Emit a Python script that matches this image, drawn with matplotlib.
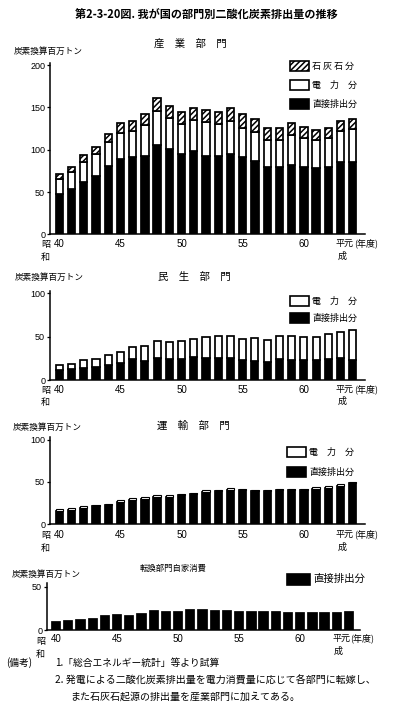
import numpy as np
import matplotlib
matplotlib.use("Agg")
import matplotlib.pyplot as plt
from matplotlib.patches import Rectangle
from matplotlib.transforms import blended_transform_factory

plt.rcParams['font.family'] = ['Noto Sans CJK JP', 'DejaVu Sans']
plt.rcParams['hatch.linewidth'] = 1.1

W, H = 399, 707

# 昭和40年度 ～ 平成元年度
years = ['40', '41', '42', '43', '44', '45', '46', '47', '48', '49', '50', '51', '52',
         '53', '54', '55', '56', '57', '58', '59', '60', '61', '62', '63', '平元']
tick_pos = [0, 5, 10, 15, 20]
tick_labels = ['40', '45', '50', '55', '60']

# 産業部門
ind_direct = [48, 54, 62, 69, 81, 89, 91, 93, 106, 101, 95, 98, 92, 92, 95, 91, 87, 79, 79, 82, 80, 78, 80, 85, 86]
ind_elec = [17, 20, 23, 26, 28, 31, 31, 36, 40, 37, 35, 37, 41, 38, 39, 35, 34, 33, 33, 35, 34, 33, 34, 37, 39]
ind_lime = [6, 6, 9, 8, 10, 11, 12, 13, 15, 14, 14, 14, 14, 15, 15, 16, 15, 14, 14, 14, 13, 12, 12, 12, 11]

# 民生部門
res_direct = [11.5, 13, 14, 15.5, 17.5, 20, 24, 22, 25.5, 24, 24, 26, 25, 25, 25, 23, 22, 21, 24.5, 23.5, 22.5, 22.5, 24, 25.5, 23.5]
res_elec = [6, 6, 9, 8.5, 11.5, 12.5, 14, 17, 20, 20, 21, 21.5, 25, 26, 25.5, 24, 26, 25.5, 26.5, 27, 27.5, 27, 29, 30, 34]

# 運輸部門
tr_direct = [16, 17, 19.5, 21.5, 22.5, 26.5, 28.5, 30, 32.5, 32.5, 34, 35.5, 38.5, 39.5, 41, 40, 39.5, 39, 40, 40, 40, 42, 43, 45, 48.5]
tr_elec = [2, 2, 2, 1.5, 1.5, 2, 2, 2, 2, 2, 2, 2, 1.5, 1.5, 2, 2, 1.5, 1.5, 2, 2, 2, 2, 2, 2, 1.5]

# 転換部門自家消費
cv_direct = [9, 10.5, 11, 13, 16, 17, 16.5, 18, 22, 20.5, 21, 23, 23, 22.5, 22, 20.5, 20.5, 20.5, 20.5, 20, 20, 19.5, 20, 19.5, 20.5]

fig = plt.figure(figsize=(W / 100, H / 100), dpi=100)
fig.patch.set_facecolor('white')


def fx(px):
    return px / W


def fy(py):
    return 1 - py / H


def add_ax(left, right, top, bottom):
    return fig.add_axes([fx(left), fy(bottom), (right - left) / W, (bottom - top) / H])


def ftext(x, y, s, size=6.5, **kw):
    fig.text(fx(x), fy(y), s, fontsize=size, va='center', **kw)


def legend_box(x, y, label, face, hatch=None, w=19, h=10, size=6.5):
    fig.add_artist(Rectangle((fx(x), fy(y + h / 2)), w / W, h / H, transform=fig.transFigure,
                             facecolor=face, edgecolor='black', linewidth=1.2, hatch=hatch))
    ftext(x + w + 3, y, label, size=size)


def setup_axis(ax, ymax, yticks, xleft, xright, label_y, wa_y, ax_bottom, sho_x=41, sho_dy=1.5):
    ax.set_xlim(xleft, xright)
    ax.set_ylim(0, ymax)
    for s in ['top', 'right']:
        ax.spines[s].set_visible(False)
    for s in ['left', 'bottom']:
        ax.spines[s].set_linewidth(1.1)
    ax.set_yticks(yticks)
    ax.set_yticklabels([str(t) for t in yticks], fontsize=6.5, family='Liberation Sans')
    ax.tick_params(axis='y', direction='out', length=2.5, width=0.9, pad=1)
    ax.set_xticks(tick_pos)
    ax.set_xticklabels(tick_labels, fontsize=7, family='Liberation Sans')
    ax.tick_params(axis='x', length=0, pad=(label_y - ax_bottom) * 0.72 - 3)
    ax.patch.set_alpha(0)
    # 昭和 / 平成元 (年度)
    tr = blended_transform_factory(ax.transData, fig.transFigure)
    ftext(sho_x, label_y + sho_dy, '昭', size=6.5)
    ftext(sho_x, wa_y + sho_dy, '和', size=6.5)
    ax.text(23.35, fy(label_y), '平元', transform=tr, fontsize=6.5, ha='center', va='center')
    ax.text(24.1, fy(label_y), '(年度)', transform=tr, fontsize=6.5, ha='left', va='center')
    ax.text(23.15, fy(wa_y), '成', transform=tr, fontsize=6.5, ha='center', va='center')


x = np.arange(len(years))
bar_kw = dict(edgecolor='black', linewidth=1.25)

# タイトル
ftext(206, 15, '第2-3-20図. 我が国の部門別二酸化炭素排出量の推移', size=8, ha='center', weight='bold')

# ---- 産業部門 ----
ax1 = add_ax(50, 365, 63, 234.3)
bottom2 = np.array(ind_direct) + np.array(ind_elec)
ax1.bar(x, ind_direct, width=0.6, color='black', **bar_kw)
ax1.bar(x, ind_elec, bottom=ind_direct, width=0.6, color='white', **bar_kw)
ax1.bar(x, ind_lime, bottom=bottom2, width=0.6, color='white', hatch='//////', **bar_kw)
setup_axis(ax1, 202.5, [0, 50, 100, 150, 200], -0.76, 25.0, 243, 256, 234.3)
ftext(190, 44, '産　業　部　門', size=7.5, ha='center')
ftext(14, 51, '炭素換算百万トン', size=6.2)
legend_box(290, 66, '石 灰 石 分', 'white', hatch='//////')
legend_box(290, 85, '電　力　分', 'white')
legend_box(290, 104, '直接排出分', 'black')

# ---- 民生部門 ----
ax2 = add_ax(50, 365, 291, 380)
ax2.bar(x, res_direct, width=0.58, color='black', **bar_kw)
ax2.bar(x, res_elec, bottom=res_direct, width=0.58, color='white', **bar_kw)
setup_axis(ax2, 102.6, [0, 50, 100], -0.76, 25.0, 389, 401, 380)
ftext(194, 277, '民　生　部　門', size=7.5, ha='center')
ftext(15, 277, '炭素換算百万トン', size=6.2)
legend_box(290, 301, '電　力　分', 'white')
legend_box(290, 318, '直接排出分', 'black')

# ---- 運輸部門 ----
ax3 = add_ax(50, 365, 437, 524.3)
ax3.bar(x, tr_direct, width=0.6, color='black', **bar_kw)
ax3.bar(x, tr_elec, bottom=tr_direct, width=0.6, color='white', edgecolor='black', linewidth=0.8)
setup_axis(ax3, 103, [0, 50, 100], -0.76, 25.0, 534, 547, 524.3)
ftext(193, 426, '運　輸　部　門', size=7.5, ha='center')
ftext(13, 427, '炭素換算百万トン', size=6.2)
legend_box(287, 452, '電　力　分', 'white')
legend_box(287, 472, '直接排出分', 'black')

# ---- 転換部門自家消費 ----
ax4 = add_ax(47, 360, 583, 630)
ax4.bar(x, cv_direct, width=0.68, color='black', **bar_kw)
setup_axis(ax4, 54.3, [0, 50], -0.74, 24.9, 638, 651, 630, sho_x=36, sho_dy=3.5)
ftext(173, 568, '転換部門自家消費', size=6, ha='center')
ftext(12, 574, '炭素換算百万トン', size=6.2)
legend_box(287, 579, '直接排出分', 'black', w=23, h=11, size=7.5)

# ---- 備考 ----
ftext(6, 663, '(備考)', size=7)
ftext(55, 663, '1.「総合エネルギー統計」等より試算', size=7)
ftext(55, 681, '2. 発電による二酸化炭素排出量を電力消費量に応じて各部門に転嫁し、', size=7.2)
ftext(70, 697, 'また石灰石起源の排出量を産業部門に加えてある。', size=7.2)

fig.savefig('out.png', dpi=100)
